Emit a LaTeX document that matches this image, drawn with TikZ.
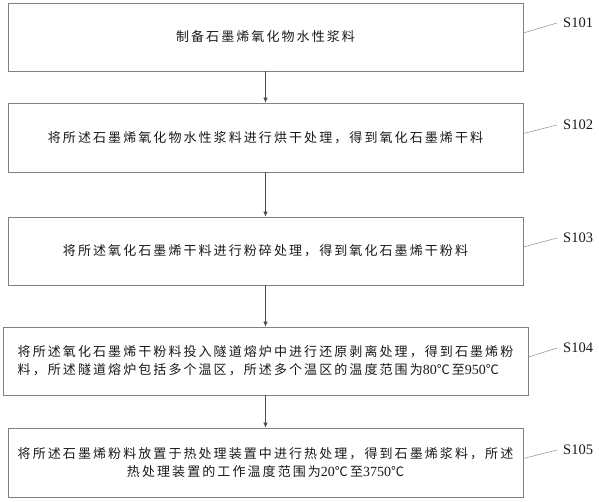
\documentclass[tikz,border=0pt]{standalone}
\usepackage{fontspec}
\setmainfont{Liberation Serif}
\newfontfamily\cjk[LetterSpace=16]{Noto Sans CJK SC}
\newcommand{\num}[1]{{\rmfamily\fontsize{14}{18}\selectfont #1}}
\usetikzlibrary{arrows.meta}

\begin{document}
\begin{tikzpicture}[x=1pt,y=-1pt,
    stepbox/.style={draw=black!50, line width=0.7pt, inner sep=0pt, text=black!90,
      font=\cjk\fontsize{13}{18}\selectfont},
    steplabel/.style={font=\fontsize{14.5}{16}\selectfont, text=black!90, inner sep=2pt},
    leader/.style={draw=black!45, line width=0.5pt},
    flow/.style={draw=black!70, line width=0.6pt, -{Latex[length=5pt,width=4.5pt]}}]
		%%%%% START %%%%%
		\useasboundingbox (0,0) rectangle (599,501);
		
		\node[stepbox, minimum width=515, minimum height=68] (box1) at (265.5, 37) {制备石墨烯氧化物水性浆料};
		\node[stepbox, minimum width=515, minimum height=69] (box2) at (265.5, 137.5) {将所述石墨烯氧化物水性浆料进行烘干处理，得到氧化石墨烯干料};
		\node[stepbox, minimum width=515, minimum height=68] (box3) at (265.5, 251) {将所述氧化石墨烯干料进行粉碎处理，得到氧化石墨烯干粉料};
		\node[stepbox, minimum width=525, minimum height=68, align=left] (box4) at (265.5, 361)
			{将所述氧化石墨烯干粉料投入隧道熔炉中进行还原剥离处理，得到石墨烯粉\\料，所述隧道熔炉包括多个温区，所述多个温区的温度范围为\num{80}℃至\num{950}℃};
		\node[stepbox, minimum width=515, minimum height=69, align=center] (box5) at (265.5, 462.5)
			{将所述石墨烯粉料放置于热处理装置中进行热处理，得到石墨烯浆料，所述\\热处理装置的工作温度范围为\num{20}℃至\num{3750}℃};
		
		\node[steplabel, anchor=west] (s101) at (561, 23) {S101};
		\node[steplabel, anchor=west] (s102) at (561, 125) {S102};
		\node[steplabel, anchor=west] (s103) at (561, 238) {S103};
		\node[steplabel, anchor=west] (s104) at (561, 348) {S104};
		\node[steplabel, anchor=west] (s105) at (561, 450) {S105};
		
		\draw[flow] (box1) -- (box2);
		\draw[flow] (box2) -- (box3);
		\draw[flow] (box3) -- (box4);
		\draw[flow] (box4) -- (box5);
		
		\draw[leader] ([yshift=4]box1.east) -- ([xshift=-4]s101.west);
		\draw[leader] ([yshift=4]box2.east) -- ([xshift=-4]s102.west);
		\draw[leader] ([yshift=4]box3.east) -- ([xshift=-4]s103.west);
		\draw[leader] ([yshift=4]box4.east) -- ([xshift=-4]s104.west);
		\draw[leader] ([yshift=4]box5.east) -- ([xshift=-4]s105.west);
		
		%%%%% END %%%%%
	\end{tikzpicture}
\end{document}
